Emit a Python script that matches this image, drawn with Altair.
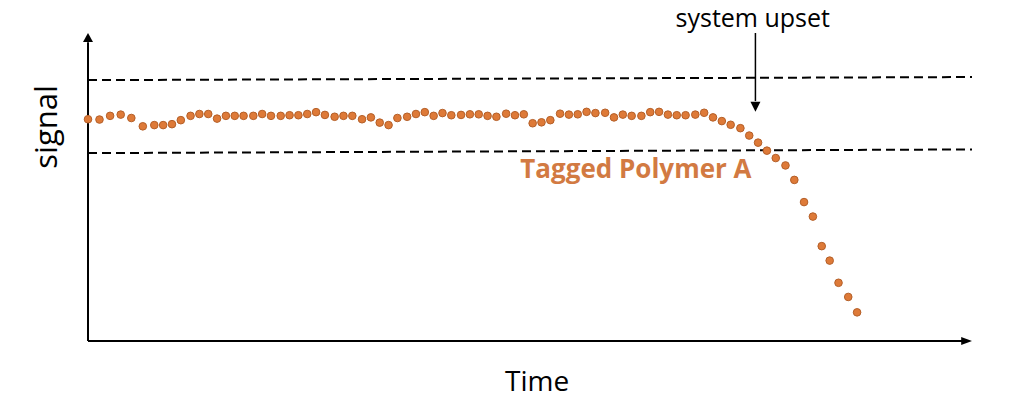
import altair as alt
import pandas as pd

# ---- data ----
time = [0.0, 1.3, 2.5, 3.7, 4.9, 6.2, 7.5, 8.5, 9.5, 10.5,
        11.6, 12.6, 13.6, 14.6, 15.6, 16.6, 17.6, 18.7, 19.7, 20.7,
        21.8, 22.8, 23.8, 24.8, 25.8, 26.8, 27.9, 28.9, 29.9, 31.0,
        32.0, 33.0, 34.0, 35.0, 36.1, 37.1, 38.1, 39.1, 40.1, 41.1,
        42.2, 43.2, 44.2, 45.2, 46.2, 47.3, 48.3, 49.3, 50.3, 51.3,
        52.3, 53.4, 54.4, 55.4, 56.4, 57.4, 58.5, 59.5, 60.5, 61.5,
        62.6, 63.6, 64.6, 65.6, 66.6, 67.6, 68.7, 69.7, 70.7, 71.7,
        72.7, 73.8, 74.8, 75.8, 76.8, 77.8, 78.9, 79.9, 81.0, 82.0,
        83.0, 83.9, 84.9, 86.0, 87.0]
signal = [72.0, 71.9, 73.1, 73.5, 72.4, 69.7, 70.1, 70.1, 70.4, 71.7,
          73.1, 73.7, 73.7, 72.2, 73.1, 73.1, 73.1, 73.1, 73.7, 73.1,
          73.1, 73.3, 73.3, 73.7, 74.3, 73.4, 72.8, 73.1, 73.1, 72.0,
          72.6, 70.9, 70.1, 72.4, 72.8, 73.7, 74.3, 73.1, 74.0, 73.3,
          73.4, 73.6, 73.6, 73.1, 72.8, 73.8, 73.3, 73.6, 70.7, 71.0,
          71.7, 73.8, 73.5, 73.6, 74.4, 74.0, 74.1, 72.6, 73.5, 73.1,
          73.1, 74.3, 74.4, 73.5, 73.3, 73.3, 73.5, 74.1, 72.6, 71.4,
          70.2, 69.1, 66.7, 64.4, 61.8, 59.4, 57.0, 52.3, 45.1, 40.4,
          30.8, 26.1, 18.9, 14.3, 9.3]

# control limits (dashed lines): start/end levels (slightly tilted in the original)
limit_x = [0.0, 100.0]
upper_limit = [84.7, 85.7]
lower_limit = [61.0, 62.2]

# annotation "system upset" arrow
upset_x = 75.5
upset_top = 100.0
upset_tip = 74.4

ORANGE = "#DE7A38"
ORANGE_EDGE = "#B45F28"
TEXT_ORANGE = "#D27A42"

pts = pd.DataFrame({"time": time, "signal": signal})

xs = alt.Scale(domain=[0, 100], nice=False, zero=False)
ys = alt.Scale(domain=[0, 100], nice=False, zero=False)
X = lambda f: alt.X(f, type="quantitative", scale=xs, axis=None)
Y = lambda f: alt.Y(f, type="quantitative", scale=ys, axis=None)

limits = pd.DataFrame({
    "x": [limit_x[0], limit_x[0]], "x2": [limit_x[1], limit_x[1]],
    "y": [upper_limit[0], lower_limit[0]], "y2": [upper_limit[1], lower_limit[1]],
})
dashed = alt.Chart(limits).mark_rule(
    color="black", strokeWidth=2, strokeDash=[9, 5]
).encode(x=X("x"), x2="x2", y=Y("y"), y2="y2")

# axes with arrowheads
axes_df = pd.DataFrame({"x": [0, 0], "y": [0, 0], "x2": [0, 99], "y2": [97, 0]})
axes_lines = alt.Chart(axes_df).mark_rule(color="black", strokeWidth=2).encode(
    x=X("x"), y=Y("y"), x2="x2", y2="y2")

up_head = alt.Chart(pd.DataFrame({"x": [0], "y": [100]})).mark_point(
    shape="M0,0L-1,1.8L1,1.8Z", size=100, filled=True, color="black", opacity=1
).encode(x=X("x"), y=Y("y"))
right_head = alt.Chart(pd.DataFrame({"x": [100], "y": [0]})).mark_point(
    shape="M0,0L-2.4,-0.9L-2.4,0.9Z", size=81, filled=True, color="black", opacity=1
).encode(x=X("x"), y=Y("y"))

dots = alt.Chart(pts).mark_circle(
    size=58, color=ORANGE, opacity=1, stroke=ORANGE_EDGE, strokeWidth=1
).encode(x=X("time"), y=Y("signal"))

# system upset arrow
arr_df = pd.DataFrame({"x": [upset_x], "y": [upset_top], "y2": [upset_tip + 3.5]})
arr_line = alt.Chart(arr_df).mark_rule(color="black", strokeWidth=1.5).encode(
    x=X("x"), y=Y("y"), y2="y2")
arr_head = alt.Chart(pd.DataFrame({"x": [upset_x], "y": [upset_tip]})).mark_point(
    shape="M0,0L-1,-2L1,-2Z", size=100, filled=True, color="black", opacity=1
).encode(x=X("x"), y=Y("y"))

def label(txt, x, y, **kw):
    return alt.Chart(pd.DataFrame({"x": [x], "y": [y], "t": [txt]})).mark_text(
        font="Open Sans", baseline="alphabetic", **kw
    ).encode(x=X("x"), y=Y("y"), text="t:N")

t_upset = label("system upset", 75.2, 102.0, fontSize=25, align="center", color="black")
t_poly = label("Tagged Polymer A", 48.9, 53.0, fontSize=26, fontWeight="bold",
               align="left", color=TEXT_ORANGE)
t_time = label("Time", 50.8, -16.3, fontSize=28, align="center", color="black")
t_signal = label("signal", -3.5, 69.5, fontSize=31, align="center", angle=270,
                 color="black")

chart = alt.layer(
    dashed, axes_lines, up_head, right_head, dots, arr_line, arr_head,
    t_upset, t_poly, t_time, t_signal
).properties(
    width=884, height=308,
    background="white",
    autosize=alt.AutoSizeParams(type="none"),
    padding={"left": 80, "top": 25, "right": 30, "bottom": 58},
).configure_view(strokeWidth=0, stroke="transparent")

chart.save("out.html", embed_options={"renderer": "svg", "actions": False})
